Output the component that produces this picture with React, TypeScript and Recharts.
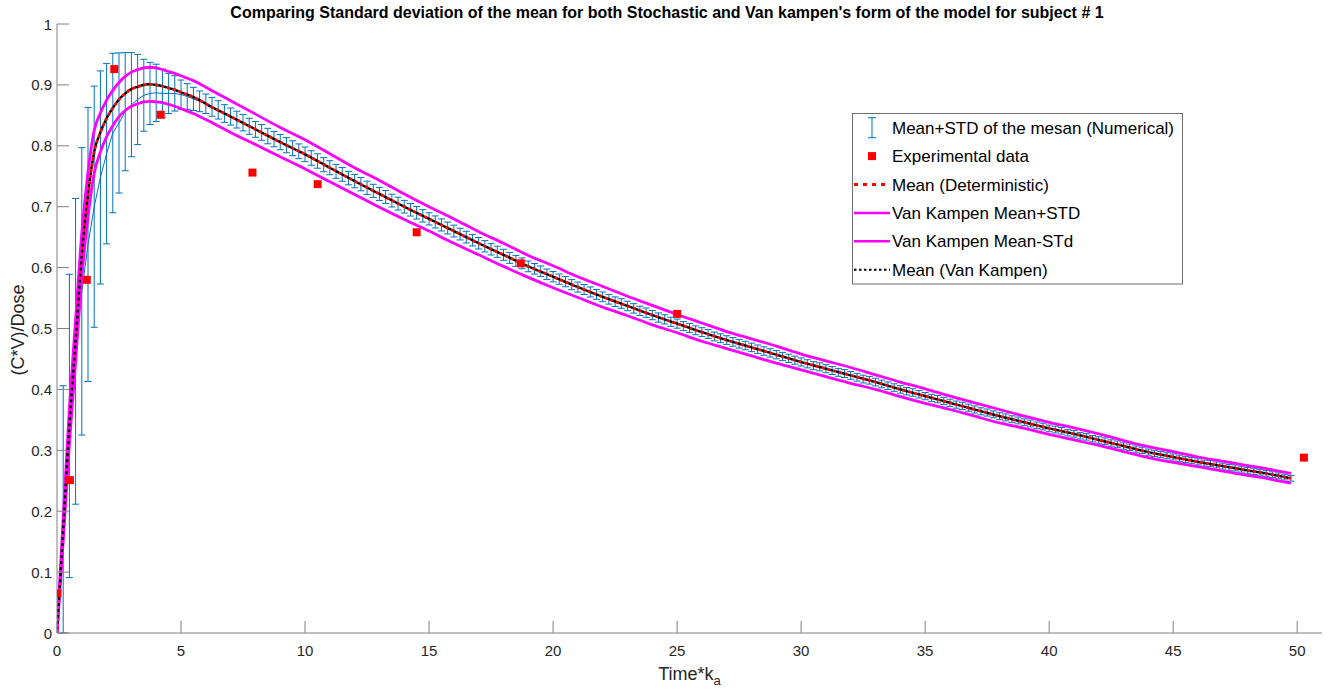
import { ComposedChart, ErrorBar, Line, Scatter, XAxis, YAxis } from "recharts";

// numerical (stochastic) mean and its std, every 0.25 time units
const NUM_T = [
  0, 0.25, 0.5, 0.75, 1, 1.25, 1.5, 1.75, 2, 2.25, 2.5, 2.75, 3, 3.25, 3.5, 3.75, 4, 4.25, 4.5, 4.75,
  5, 5.25, 5.5, 5.75, 6, 6.25, 6.5, 6.75, 7, 7.25, 7.5, 7.75, 8, 8.25, 8.5, 8.75, 9, 9.25, 9.5, 9.75,
  10, 10.25, 10.5, 10.75, 11, 11.25, 11.5, 11.75, 12, 12.25, 12.5, 12.75, 13, 13.25, 13.5, 13.75, 14, 14.25, 14.5, 14.75,
  15, 15.25, 15.5, 15.75, 16, 16.25, 16.5, 16.75, 17, 17.25, 17.5, 17.75, 18, 18.25, 18.5, 18.75, 19, 19.25, 19.5, 19.75,
  20, 20.25, 20.5, 20.75, 21, 21.25, 21.5, 21.75, 22, 22.25, 22.5, 22.75, 23, 23.25, 23.5, 23.75, 24, 24.25, 24.5, 24.75,
  25, 25.25, 25.5, 25.75, 26, 26.25, 26.5, 26.75, 27, 27.25, 27.5, 27.75, 28, 28.25, 28.5, 28.75, 29, 29.25, 29.5, 29.75,
  30, 30.25, 30.5, 30.75, 31, 31.25, 31.5, 31.75, 32, 32.25, 32.5, 32.75, 33, 33.25, 33.5, 33.75, 34, 34.25, 34.5, 34.75,
  35, 35.25, 35.5, 35.75, 36, 36.25, 36.5, 36.75, 37, 37.25, 37.5, 37.75, 38, 38.25, 38.5, 38.75, 39, 39.25, 39.5, 39.75,
  40, 40.25, 40.5, 40.75, 41, 41.25, 41.5, 41.75, 42, 42.25, 42.5, 42.75, 43, 43.25, 43.5, 43.75, 44, 44.25, 44.5, 44.75,
  45, 45.25, 45.5, 45.75, 46, 46.25, 46.5, 46.75, 47, 47.25, 47.5, 47.75, 48, 48.25, 48.5, 48.75, 49, 49.25, 49.5, 49.75,
];

const NUM_MEAN = [
  0, 0.203, 0.34, 0.4625, 0.561, 0.638, 0.7, 0.748, 0.787, 0.821, 0.8375, 0.856, 0.8675, 0.876, 0.883, 0.886, 0.887, 0.886, 0.886, 0.886,
  0.884, 0.881, 0.877, 0.873, 0.869, 0.864, 0.859, 0.853, 0.848, 0.843, 0.838, 0.832, 0.827, 0.822, 0.816, 0.811, 0.806, 0.801, 0.796, 0.791,
  0.786, 0.78, 0.775, 0.769, 0.764, 0.758, 0.753, 0.747, 0.742, 0.737, 0.731, 0.726, 0.721, 0.716, 0.71, 0.705, 0.7, 0.695, 0.69, 0.685,
  0.68, 0.675, 0.67, 0.665, 0.66, 0.655, 0.65, 0.645, 0.64, 0.635, 0.63, 0.626, 0.621, 0.616, 0.611, 0.607, 0.602, 0.598, 0.594, 0.589,
  0.585, 0.581, 0.577, 0.572, 0.568, 0.564, 0.56, 0.556, 0.552, 0.548, 0.544, 0.541, 0.537, 0.533, 0.529, 0.526, 0.522, 0.518, 0.515, 0.511,
  0.508, 0.504, 0.501, 0.497, 0.494, 0.491, 0.487, 0.484, 0.481, 0.478, 0.475, 0.472, 0.469, 0.466, 0.463, 0.46, 0.457, 0.454, 0.451, 0.448,
  0.445, 0.442, 0.439, 0.437, 0.434, 0.431, 0.428, 0.426, 0.423, 0.42, 0.417, 0.415, 0.412, 0.409, 0.406, 0.403, 0.4, 0.397, 0.395, 0.392,
  0.389, 0.386, 0.384, 0.381, 0.378, 0.375, 0.373, 0.37, 0.367, 0.364, 0.362, 0.359, 0.356, 0.354, 0.351, 0.349, 0.346, 0.344, 0.341, 0.339,
  0.336, 0.334, 0.332, 0.329, 0.327, 0.324, 0.322, 0.319, 0.317, 0.315, 0.312, 0.31, 0.307, 0.305, 0.302, 0.3, 0.297, 0.295, 0.293, 0.291,
  0.289, 0.287, 0.285, 0.283, 0.281, 0.279, 0.278, 0.276, 0.274, 0.272, 0.271, 0.269, 0.267, 0.265, 0.264, 0.262, 0.26, 0.258, 0.256, 0.254,
];

const NUM_STD = [
  0, 0.203, 0.249, 0.251, 0.236, 0.225, 0.198, 0.175, 0.148, 0.131, 0.115, 0.097, 0.0855, 0.074, 0.059, 0.051, 0.047, 0.04, 0.033, 0.029,
  0.024, 0.021, 0.019, 0.017, 0.016, 0.0155, 0.015, 0.0145, 0.014, 0.0138, 0.0135, 0.0132, 0.013, 0.0129, 0.0127, 0.0126, 0.0125, 0.0124, 0.0122, 0.0121,
  0.012, 0.0119, 0.0118, 0.0116, 0.0115, 0.0114, 0.0113, 0.0111, 0.011, 0.0109, 0.0109, 0.0108, 0.0107, 0.0106, 0.0105, 0.0105, 0.0104, 0.0103, 0.0102, 0.0101,
  0.01, 0.0099, 0.0099, 0.0098, 0.0097, 0.0096, 0.0096, 0.0095, 0.0094, 0.0093, 0.0093, 0.0092, 0.0091, 0.009, 0.009, 0.0089, 0.0088, 0.0087, 0.0087, 0.0086,
  0.0085, 0.0084, 0.0084, 0.0083, 0.0083, 0.0082, 0.0082, 0.0081, 0.008, 0.008, 0.0079, 0.0079, 0.0078, 0.0078, 0.0077, 0.0077, 0.0076, 0.0076, 0.0076, 0.0075,
  0.0075, 0.0074, 0.0074, 0.0073, 0.0073, 0.0073, 0.0072, 0.0072, 0.0071, 0.0071, 0.0071, 0.007, 0.007, 0.0069, 0.0069, 0.0069, 0.0068, 0.0068, 0.0068, 0.0067,
  0.0067, 0.0067, 0.0066, 0.0066, 0.0066, 0.0065, 0.0065, 0.0065, 0.0064, 0.0064, 0.0064, 0.0063, 0.0063, 0.0063, 0.0062, 0.0062, 0.0062, 0.0061, 0.0061, 0.0061,
  0.006, 0.006, 0.006, 0.006, 0.0059, 0.0059, 0.0059, 0.0058, 0.0058, 0.0058, 0.0058, 0.0057, 0.0057, 0.0057, 0.0056, 0.0056, 0.0056, 0.0056, 0.0055, 0.0055,
  0.0055, 0.0055, 0.0054, 0.0054, 0.0054, 0.0054, 0.0053, 0.0053, 0.0053, 0.0053, 0.0052, 0.0052, 0.0052, 0.0052, 0.0051, 0.0051, 0.0051, 0.0051, 0.0051, 0.005,
  0.005, 0.005, 0.005, 0.005, 0.005, 0.0049, 0.0049, 0.0049, 0.0049, 0.0049, 0.0049, 0.0048, 0.0048, 0.0048, 0.0048, 0.0048, 0.0048, 0.0048, 0.0047, 0.0047,
];

// Van Kampen mean, mean +/- std and the deterministic mean
const VK_T = [
  0, 0.25, 0.5, 0.75, 1, 1.25, 1.5, 1.75, 2, 2.25, 2.5, 2.75, 3, 3.25, 3.5, 3.75, 4, 4.25, 4.5, 4.75, 5, 5.25, 5.5, 5.75, 6,
  7, 8, 9, 10, 11, 12, 13, 14, 15, 16, 17, 18, 19, 20, 21, 22, 23, 24, 25, 26, 27, 28, 29, 30,
  31, 32, 33, 34, 35, 36, 37, 38, 39, 40, 41, 42, 43, 44, 45, 46, 47, 48, 49, 49.75,
];

const VK_MEAN = [
  0, 0.17, 0.34, 0.48, 0.62, 0.72, 0.79, 0.822, 0.845, 0.862, 0.876, 0.886, 0.893, 0.897, 0.9, 0.901, 0.9, 0.898, 0.895, 0.892, 0.888, 0.884, 0.88, 0.875, 0.869,
  0.848, 0.827, 0.806, 0.786, 0.764, 0.742, 0.721, 0.7, 0.68, 0.66, 0.64, 0.621, 0.602, 0.585, 0.568, 0.552, 0.537, 0.522, 0.508, 0.494, 0.481, 0.469, 0.457, 0.445,
  0.434, 0.423, 0.412, 0.4, 0.389, 0.378, 0.367, 0.356, 0.346, 0.336, 0.327, 0.317, 0.307, 0.297, 0.289, 0.281, 0.274, 0.267, 0.26, 0.254,
];

const DET_MEAN = [
  0, 0.17, 0.34, 0.48, 0.62, 0.72, 0.79, 0.822, 0.845, 0.862, 0.876, 0.886, 0.893, 0.897, 0.9, 0.901, 0.9, 0.898, 0.895, 0.892, 0.888, 0.884, 0.88, 0.875, 0.869,
  0.848, 0.827, 0.806, 0.786, 0.764, 0.742, 0.721, 0.7, 0.68, 0.66, 0.64, 0.621, 0.602, 0.585, 0.568, 0.552, 0.537, 0.522, 0.508, 0.494, 0.481, 0.469, 0.457, 0.445,
  0.434, 0.423, 0.412, 0.4, 0.389, 0.378, 0.367, 0.356, 0.346, 0.336, 0.327, 0.317, 0.307, 0.297, 0.289, 0.281, 0.274, 0.267, 0.26, 0.254,
];

const VK_UPPER = [
  0, 0.19, 0.37, 0.515, 0.657, 0.757, 0.825, 0.854, 0.875, 0.891, 0.904, 0.914, 0.921, 0.925, 0.928, 0.929, 0.928, 0.925, 0.922, 0.919, 0.915, 0.911, 0.907, 0.902, 0.896,
  0.874, 0.852, 0.83, 0.81, 0.787, 0.764, 0.743, 0.721, 0.7, 0.68, 0.659, 0.64, 0.62, 0.603, 0.585, 0.569, 0.553, 0.538, 0.523, 0.509, 0.495, 0.483, 0.471, 0.458,
  0.447, 0.436, 0.424, 0.412, 0.401, 0.389, 0.378, 0.367, 0.356, 0.346, 0.337, 0.327, 0.316, 0.306, 0.298, 0.289, 0.282, 0.275, 0.268, 0.262,
];

const VK_LOWER = [
  0, 0.15, 0.31, 0.445, 0.583, 0.683, 0.755, 0.79, 0.815, 0.833, 0.848, 0.858, 0.865, 0.869, 0.872, 0.873, 0.872, 0.871, 0.868, 0.865, 0.861, 0.857, 0.853, 0.848, 0.843,
  0.822, 0.802, 0.782, 0.762, 0.741, 0.72, 0.699, 0.679, 0.66, 0.64, 0.621, 0.602, 0.584, 0.567, 0.551, 0.535, 0.521, 0.506, 0.493, 0.479, 0.467, 0.455, 0.443, 0.432,
  0.421, 0.41, 0.4, 0.388, 0.377, 0.367, 0.356, 0.345, 0.336, 0.326, 0.317, 0.308, 0.298, 0.288, 0.28, 0.273, 0.266, 0.259, 0.252, 0.246,
];

// experimental observations
const EXP_T = [0.02, 0.52, 1.2, 2.31, 4.18, 7.88, 10.51, 14.5, 18.7, 25.0, 50.27];
const EXP_Y = [0.065, 0.251, 0.58, 0.926, 0.851, 0.756, 0.737, 0.658, 0.607, 0.524, 0.288];

const X_TICKS = [0, 5, 10, 15, 20, 25, 30, 35, 40, 45, 50];
const Y_TICKS = [0, 0.1, 0.2, 0.3, 0.4, 0.5, 0.6, 0.7, 0.8, 0.9, 1];

const TITLE =
  "Comparing Standard deviation of the mean for both Stochastic and Van kampen's form of the model for subject # 1";

const LEGEND = [
  "Mean+STD of the mesan (Numerical)",
  "Experimental data",
  "Mean (Deterministic)",
  "Van Kampen Mean+STD",
  "Van Kampen Mean-STd",
  "Mean (Van Kampen)",
];

const FONT = '"Liberation Sans", Arial, Helvetica, sans-serif';
const AXIS_COLOR = "#808080";
const TEXT_COLOR = "#262626";
const BLUE = "#0072BD";
const RED = "#ff0000";
const MAGENTA = "#ff00ff";

const numData = NUM_T.map((t, i) => ({ t, mean: NUM_MEAN[i], std: NUM_STD[i] }));
const vkData = VK_T.map((t, i) => ({
  t,
  mean: VK_MEAN[i],
  det: DET_MEAN[i],
  upper: VK_UPPER[i],
  lower: VK_LOWER[i],
}));
const expData = EXP_T.map((t, i) => ({ t, y: EXP_Y[i] }));

// matlab style ticks: marks point into the axes
function XTick({ x, y, payload }: any) {
  return (
    <g>
      <line x1={x} x2={x} y1={y} y2={y - 12} stroke={AXIS_COLOR} />
      <text x={x} y={y + 23} textAnchor="middle" fill={TEXT_COLOR} fontSize={15} fontFamily={FONT}>
        {payload.value}
      </text>
    </g>
  );
}

function YTick({ x, y, payload }: any) {
  return (
    <g>
      <line x1={x} x2={x + 12} y1={y} y2={y} stroke={AXIS_COLOR} />
      <text x={x - 5} y={y + 5.5} textAnchor="end" fill={TEXT_COLOR} fontSize={15} fontFamily={FONT}>
        {payload.value}
      </text>
    </g>
  );
}

function Overlay() {
  const rowY = (i: number) => 127.7 + i * 28.4;
  return (
    <svg
      width={1330}
      height={690}
      style={{ position: "absolute", left: 0, top: 0, pointerEvents: "none" }}
      fontFamily={FONT}
    >
      <text x={667} y={18} textAnchor="middle" fontWeight="bold" fontSize={16} fill="#000">
        {TITLE}
      </text>
      <text transform="rotate(-90)" x={-330} y={24} textAnchor="middle" fontSize={18} fill={TEXT_COLOR}>
        (C*V)/Dose
      </text>
      <text x={689.5} y={680} textAnchor="middle" fontSize={18} fill={TEXT_COLOR}>
        Time*k
        <tspan fontSize={13} dy={5}>
          a
        </tspan>
      </text>

      <rect x={852.5} y={113.5} width={330} height={170.5} fill="#fff" stroke="#6f6f6f" />
      {/* errorbar */}
      <g stroke={BLUE} strokeWidth={1}>
        <line x1={872} x2={872} y1={rowY(0) - 10} y2={rowY(0) + 10} />
        <line x1={868} x2={876} y1={rowY(0) - 10} y2={rowY(0) - 10} />
        <line x1={868} x2={876} y1={rowY(0) + 10} y2={rowY(0) + 10} />
      </g>
      <rect x={868} y={rowY(1) - 4} width={8} height={8} fill={RED} />
      <line x1={854} x2={890} y1={rowY(2)} y2={rowY(2)} stroke={RED} strokeWidth={3} strokeDasharray="4 5" />
      <line x1={854} x2={890} y1={rowY(3)} y2={rowY(3)} stroke={MAGENTA} strokeWidth={2.5} />
      <line x1={854} x2={890} y1={rowY(4)} y2={rowY(4)} stroke={MAGENTA} strokeWidth={2.5} />
      <line x1={854} x2={890} y1={rowY(5)} y2={rowY(5)} stroke="#000" strokeWidth={2} strokeDasharray="2.5 2.5" />
      {LEGEND.map((label, i) => (
        <text key={label} x={892} y={rowY(i) + 6} fontSize={17} fill="#000">
          {label}
        </text>
      ))}
    </svg>
  );
}

export default function App() {
  return (
    <div style={{ position: "absolute", left: 0, top: 0, width: 1330, height: 690, background: "#fff" }}>
      <ComposedChart width={1330} height={690} data={vkData} margin={{ top: 24, right: 8, bottom: 0, left: 0 }}>
        <XAxis
          type="number"
          dataKey="t"
          domain={[0, 51]}
          ticks={X_TICKS}
          interval={0}
          allowDataOverflow
          height={57}
          axisLine={{ stroke: AXIS_COLOR }}
          tickLine={false}
          tickSize={0}
          tickMargin={0}
          tick={<XTick />}
        />
        <YAxis
          type="number"
          domain={[0, 1]}
          ticks={Y_TICKS}
          interval={0}
          allowDataOverflow
          width={57}
          axisLine={{ stroke: AXIS_COLOR }}
          tickLine={false}
          tickSize={0}
          tickMargin={0}
          tick={<YTick />}
        />
        <Line
          data={numData}
          dataKey="mean"
          type="linear"
          stroke={BLUE}
          strokeWidth={1}
          dot={false}
          activeDot={false}
          isAnimationActive={false}
        >
          <ErrorBar dataKey="std" direction="y" width={3.5} stroke={BLUE} strokeWidth={1} isAnimationActive={false} />
        </Line>
        <Scatter data={expData} dataKey="y" fill={RED} shape="square" isAnimationActive={false} />
        <Line
          dataKey="det"
          type="monotone"
          stroke={RED}
          strokeWidth={3}
          strokeDasharray="3 3"
          dot={false}
          activeDot={false}
          isAnimationActive={false}
        />
        <Line
          dataKey="upper"
          type="monotone"
          stroke={MAGENTA}
          strokeWidth={2.8}
          dot={false}
          activeDot={false}
          isAnimationActive={false}
        />
        <Line
          dataKey="lower"
          type="monotone"
          stroke={MAGENTA}
          strokeWidth={2.8}
          dot={false}
          activeDot={false}
          isAnimationActive={false}
        />
        <Line
          dataKey="mean"
          type="monotone"
          stroke="#000"
          strokeWidth={2.4}
          strokeDasharray="3 3"
          strokeDashoffset={3}
          dot={false}
          activeDot={false}
          isAnimationActive={false}
        />
      </ComposedChart>
      <Overlay />
    </div>
  );
}
